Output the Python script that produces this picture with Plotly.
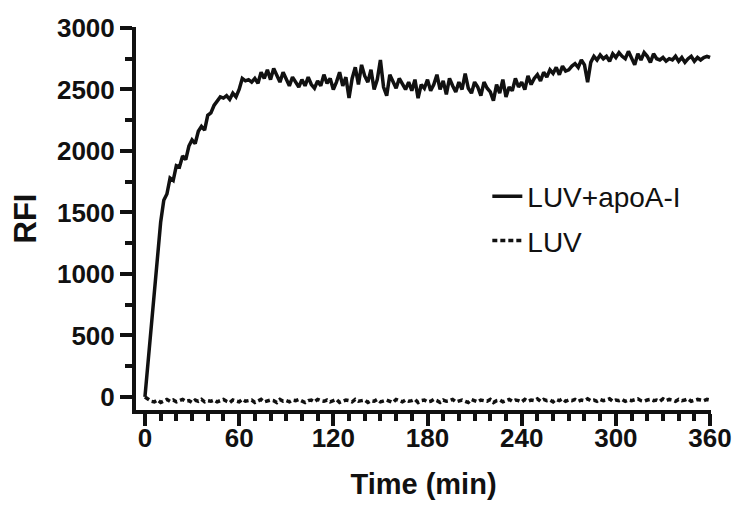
import plotly.graph_objects as go

# time axis, 2 min sampling
time_min = list(range(0, 362, 2))

# LUV + apoA-I trace
luv_apoa = [
    0, 290, 580, 870, 1150, 1420, 1600, 1650, 1780, 1760,
    1880, 1870, 1960, 1930, 2040, 2090, 2060, 2160, 2200, 2170,
    2290, 2310, 2370, 2410, 2440, 2430, 2450, 2420, 2470, 2440,
    2500, 2590, 2570, 2580, 2560, 2590, 2550, 2640, 2590, 2660,
    2580, 2670, 2610, 2560, 2640, 2590, 2530, 2600, 2560, 2520,
    2580, 2530, 2600, 2540, 2510, 2570, 2530, 2620, 2550, 2590,
    2500, 2560, 2640, 2530, 2600, 2430, 2590, 2680, 2540, 2700,
    2610, 2560, 2660, 2500, 2580, 2740, 2520, 2450, 2620, 2560,
    2510, 2590, 2540, 2500, 2560, 2490, 2580, 2430, 2540, 2510,
    2580, 2490, 2540, 2620, 2500, 2570, 2460, 2590, 2530, 2480,
    2560, 2500, 2630, 2510, 2470, 2560, 2520, 2450, 2560, 2510,
    2480, 2410, 2540, 2470, 2580, 2440, 2520, 2490, 2590, 2520,
    2560, 2500, 2610, 2540, 2590, 2620, 2570, 2640, 2600, 2660,
    2630, 2680, 2620, 2690, 2650, 2660, 2690, 2710, 2680, 2740,
    2700, 2560, 2720, 2770, 2740, 2780, 2750, 2770, 2730, 2790,
    2760, 2800, 2770, 2750, 2810, 2760, 2700, 2790, 2740, 2800,
    2770, 2720, 2790, 2750, 2740, 2760, 2730, 2750, 2740, 2770,
    2730, 2760, 2720, 2750, 2770, 2730, 2760, 2740, 2760, 2770,
    2760,
]

# LUV alone, stays just under zero
luv_only = [
    0, -20, -35, -40, -25, -45, -30, -20, -35, -25,
    -40, -30, -20, -35, -30, -45, -25, -35, -20, -40,
    -30, -35, -25, -40, -30, -20, -35, -45, -25, -30,
    -40, -20, -35, -30, -25, -45, -30, -20, -40, -35,
    -25, -30, -45, -20, -35, -30, -40, -25, -30, -20,
    -35, -45, -30, -25, -40, -20, -30, -35, -25, -40,
    -30, -20, -45, -35, -25, -30, -40, -20, -35, -30,
    -25, -45, -30, -35, -20, -40, -30, -25, -35, -45,
    -20, -30, -40, -25, -35, -30, -20, -45, -30, -25,
    -40, -35, -20, -30, -45, -25, -35, -30, -20, -40,
    -30, -25, -35, -45, -20, -30, -40, -25, -30, -35,
    -20, -45, -30, -25, -40, -30, -20, -35, -25, -30,
    -40, -20, -35, -25, -30, -15, -35, -20, -30, -25,
    -40, -20, -30, -15, -35, -25, -30, -20, -35, -25,
    -30, -15, -30, -25, -35, -20, -30, -25, -15, -35,
    -25, -30, -20, -35, -25, -30, -20, -15, -30, -35,
    -25, -20, -30, -25, -35, -15, -30, -20, -25, -35,
    -20, -30, -25, -15, -35, -30, -20, -25, -30, -20,
    -25,
]

x_ticks = [0, 60, 120, 180, 240, 300, 360]
y_ticks = [0, 500, 1000, 1500, 2000, 2500, 3000]

FONT = 'Liberation Sans, Arial, sans-serif'
INK = '#111111'

fig = go.Figure()
fig.add_trace(go.Scatter(x=time_min, y=luv_apoa, mode='lines', name='LUV+apoA-I',
                         legendgroup='a', line=dict(color=INK, width=3.5)))
fig.add_trace(go.Scatter(x=time_min, y=luv_only, mode='lines', name='LUV',
                         legendgroup='b', line=dict(color=INK, width=3.5, dash='5px,3px')))

tick_font = dict(family=FONT, size=26, color=INK)

# the page body adds an 8px offset, so the margins are shifted to compensate
fig.update_layout(
    width=750, height=511, template='simple_white',
    plot_bgcolor='white', paper_bgcolor='white',
    margin=dict(l=128, r=47, t=19, b=109, autoexpand=False),
    showlegend=True,
    legend=dict(x=0.611, y=0.50, xanchor='left', yanchor='middle',
                font=dict(family=FONT, size=28, color=INK),
                tracegroupgap=5, bgcolor='rgba(0,0,0,0)'),
)
fig.update_xaxes(
    range=[-5.7, 360.6], tickvals=x_ticks, ticktext=['<b>%d</b>' % v for v in x_ticks],
    showline=True, linewidth=4, linecolor=INK, mirror=False, automargin=False,
    ticks='outside', ticklen=12, tickwidth=4, tickcolor=INK, ticklabelstandoff=-10,
    minor=dict(dtick=10, tick0=0, ticks='outside', ticklen=7, tickwidth=4, tickcolor=INK),
    tickfont=tick_font, showgrid=False, zeroline=False,
    title=dict(text='<b>Time (min)</b>', font=dict(family=FONT, size=29, color=INK), standoff=22),
)
fig.update_yaxes(
    range=[-106, 3008], tickvals=y_ticks, ticktext=['<b>%d</b>' % v for v in y_ticks],
    showline=True, linewidth=4, linecolor=INK, mirror=False, automargin=False,
    ticks='outside', ticklen=12, tickwidth=4, tickcolor=INK, ticklabelstandoff=0,
    minor=dict(dtick=250, tick0=0, ticks='outside', ticklen=7, tickwidth=4, tickcolor=INK),
    tickfont=tick_font, showgrid=False, zeroline=False,
    title=dict(text='<b>RFI</b>', font=dict(family=FONT, size=31, color=INK), standoff=14),
)

fig.write_html("out.html")
